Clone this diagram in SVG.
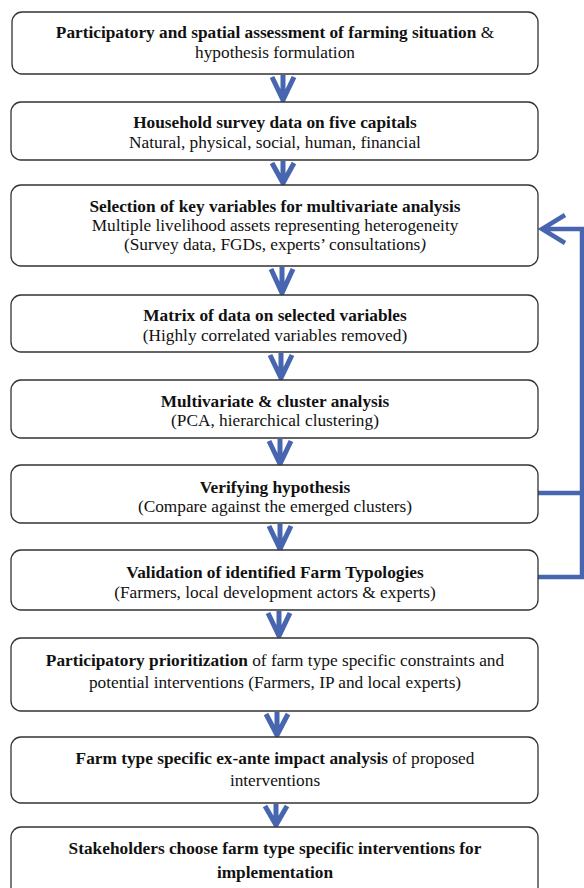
<svg xmlns="http://www.w3.org/2000/svg" width="584" height="888" viewBox="0 0 584 888">
<style>
.box{fill:#fff;stroke:#333;stroke-width:1.3}
text{font-family:"Liberation Serif","Times New Roman",serif;font-size:17.3px;fill:#111;text-anchor:middle}
.b{font-weight:bold}
.arr{fill:none;stroke:#4866B0;stroke-width:5;stroke-linejoin:round;stroke-linecap:butt}
.fb{fill:none;stroke:#4866B0;stroke-width:4.5;stroke-linejoin:miter}
</style>
<rect width="584" height="888" fill="#fff"/>
<g id="connectors">
<path class="arr" d="M283 75V100M272 77L283 100L294 77"/>
<path class="arr" d="M283 161V183M272 163L283 183L294 163"/>
<path class="arr" d="M282 267V293M271 269L282 293L293 269"/>
<path class="arr" d="M281 353V378M270 355L281 378L292 355"/>
<path class="arr" d="M280 439V464M269 441L280 464L291 441"/>
<path class="arr" d="M280 524V549M269 526L280 549L291 526"/>
<path class="arr" d="M279 611V636M268 613L279 636L290 613"/>
<path class="arr" d="M277 712V735M266 714L277 735L288 714"/>
<path class="arr" d="M276 804V825M265 806L276 825L287 806"/>
<path class="fb" d="M538 493H582M538 577H582V229H542M565 215L542 229L565 243"/>
</g>
<g id="n1"><rect class="box" x="12" y="12" width="526" height="62" rx="10"/>
<text x="275" y="38"><tspan class="b">Participatory and spatial assessment of farming situation</tspan> &amp;</text>
<text x="275" y="58">hypothesis formulation</text></g>
<g id="n2"><rect class="box" x="11" y="102" width="527" height="58" rx="10"/>
<text x="275" y="128" class="b">Household survey data on five capitals</text>
<text x="275" y="148">Natural, physical, social, human, financial</text></g>
<g id="n3"><rect class="box" x="11" y="185" width="527" height="81" rx="10"/>
<text x="275" y="212" class="b">Selection of key variables for multivariate analysis</text>
<text x="275" y="231">Multiple livelihood assets representing heterogeneity</text>
<text x="275" y="250">(Survey data, FGDs, experts’ consultations<tspan font-style="italic">)</tspan></text></g>
<g id="n4"><rect class="box" x="11" y="295" width="527" height="57" rx="10"/>
<text x="275" y="321" class="b">Matrix of data on selected variables</text>
<text x="275" y="341">(Highly correlated variables removed)</text></g>
<g id="n5"><rect class="box" x="11" y="380" width="527" height="58" rx="10"/>
<text x="275" y="407" class="b">Multivariate &amp; cluster analysis</text>
<text x="275" y="426">(PCA, hierarchical clustering)</text></g>
<g id="n6"><rect class="box" x="11" y="465" width="527" height="58" rx="10"/>
<text x="275" y="493" class="b">Verifying hypothesis</text>
<text x="275" y="512">(Compare against the emerged clusters)</text></g>
<g id="n7"><rect class="box" x="11" y="550" width="527" height="60" rx="10"/>
<text x="275" y="578" class="b">Validation of identified Farm Typologies</text>
<text x="275" y="598">(Farmers, local development actors &amp; experts)</text></g>
<g id="n8"><rect class="box" x="11" y="638" width="527" height="73" rx="10"/>
<text x="275" y="666"><tspan class="b">Participatory prioritization</tspan> of farm type specific constraints and</text>
<text x="275" y="688">potential interventions (Farmers, IP and local experts)</text></g>
<g id="n9"><rect class="box" x="11" y="737" width="527" height="66" rx="10"/>
<text x="275" y="764"><tspan class="b">Farm type specific ex-ante impact analysis</tspan> of proposed</text>
<text x="275" y="786">interventions</text></g>
<g id="n10"><rect class="box" x="11" y="827" width="527" height="70" rx="10"/>
<text x="275" y="854" class="b">Stakeholders choose farm type specific interventions for</text>
<text x="275" y="878" class="b">implementation</text></g>
</svg>
